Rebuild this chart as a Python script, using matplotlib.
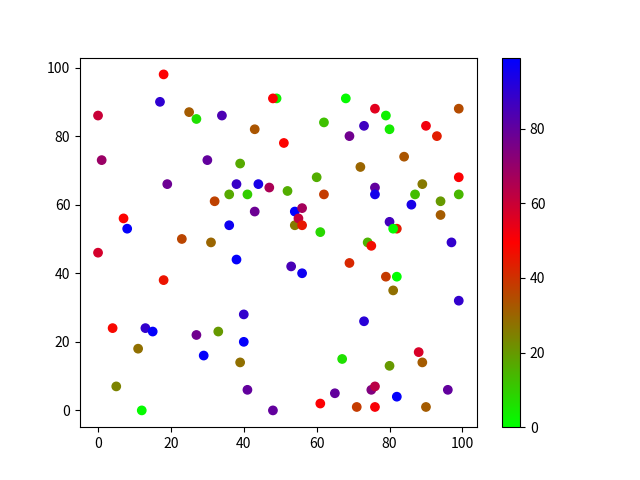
import matplotlib
matplotlib.use("Agg")
import matplotlib.pyplot as plt

plt.rcParams['font.family'] = ['Noto Sans CJK SC', 'DejaVu Sans']

x = [0, 1, 0, 7, 8, 4, 5, 12, 11, 13,
     15, 18, 17, 19, 18, 25, 27, 30, 34, 23,
     27, 29, 32, 31, 33, 36, 36, 38, 39, 41,
     38, 40, 40, 39, 41, 43, 43, 44, 47, 49,
     48, 51, 52, 53, 54, 54, 55, 56, 56, 56,
     48, 60, 62, 62, 61, 61, 65, 67, 68, 69,
     69, 72, 73, 74, 73, 71, 75, 75, 76, 76,
     76, 76, 76, 79, 80, 80, 82, 81, 82, 79,
     81, 80, 82, 84, 87, 86, 89, 88, 89, 90,
     90, 93, 94, 94, 97, 96, 99, 99, 99, 99]
y = [86, 73, 46, 56, 53, 24, 7, 0, 18, 24,
     23, 98, 90, 66, 38, 87, 85, 73, 86, 50,
     22, 16, 61, 49, 23, 63, 54, 66, 72, 63,
     44, 28, 20, 14, 6, 82, 58, 66, 65, 91,
     91, 78, 64, 42, 58, 54, 56, 59, 54, 40,
     0, 68, 84, 63, 52, 2, 5, 15, 91, 80,
     43, 71, 83, 49, 26, 1, 48, 6, 7, 1,
     88, 65, 63, 86, 82, 55, 53, 53, 39, 39,
     35, 13, 4, 74, 63, 60, 66, 17, 14, 1,
     83, 80, 61, 57, 49, 6, 88, 68, 63, 32]
c = [60, 69, 58, 49, 98, 48, 24, 1, 28, 89,
     98, 50, 90, 78, 46, 32, 6, 80, 84, 36,
     77, 98, 37, 30, 20, 17, 96, 88, 17, 10,
     98, 89, 98, 28, 80, 33, 78, 94, 66, 3,
     50, 49, 16, 85, 99, 26, 61, 67, 45, 96,
     80, 16, 12, 38, 8, 50, 80, 6, 1, 77,
     42, 30, 87, 15, 91, 38, 47, 74, 63, 51,
     55, 80, 95, 3, 4, 86, 44, 1, 0, 38,
     28, 20, 98, 33, 13, 94, 26, 57, 32, 32,
     52, 44, 20, 32, 89, 80, 35, 50, 14, 89]

fig, ax = plt.subplots(figsize=(6.4, 4.8), dpi=100)
sc = ax.scatter(x, y, c=c, cmap='brg_r')
fig.colorbar(sc, ax=ax)
fig.savefig("out.png")
